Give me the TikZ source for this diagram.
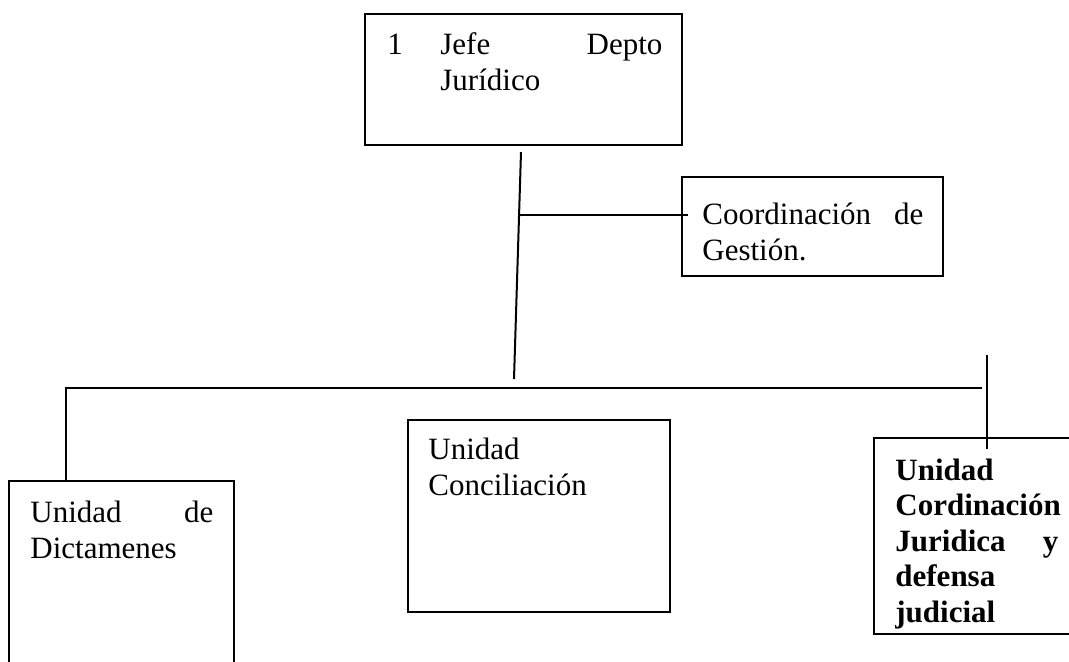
\documentclass[tikz,border=0pt]{standalone}
\usepackage{fontspec}
\setmainfont{Liberation Serif}
\usetikzlibrary{fit}
\begin{document}
\begin{tikzpicture}[x=0.5pt,y=-0.5pt,
  box/.style={draw, line width=1pt, inner sep=0pt},
  txt/.style={anchor=north west, inner sep=0pt, align=left,
    font=\fontsize{15.5pt}{18pt}\selectfont},
  btxt/.style={txt, font=\fontsize{15.5pt}{17.75pt}\selectfont\bfseries},
  conn/.style={line width=1pt}]
\useasboundingbox (0,0) rectangle (1069,661);
% boxes
\node[box, fit={(365,14) (682,145)}] (jefe) {};
\node[box, fit={(682,177) (943,276)}] (coord) {};
\node[box, fit={(9,481) (234,700)}] (dict) {};
\node[box, fit={(408,420) (670,612)}] (conc) {};
\node[box, fit={(874,438) (1090,634)}] (cjur) {};
% texts
\node[txt] (tjefe) at (387,29) {\strut\makebox[26.5pt][l]{1}\makebox[111pt][s]{Jefe Depto}\\\hspace*{26.5pt}Jurídico};
\node[txt] (tcoord) at (702,199) {\strut\makebox[110.5pt][s]{Coordinación de}\\Gestión.};
\node[txt] (tdict) at (30,497) {\strut\makebox[91.5pt][s]{Unidad de}\\Dictamenes};
\node[txt] (tconc) at (428,434) {\strut Unidad\\Conciliación};
\node[btxt] (tcjur) at (895,455) {\strut Unidad\\Cordinación\\\makebox[81.5pt][s]{Juridica y}\\defensa\\judicial};
% connectors
\coordinate (a1) at (521,152);
\coordinate (a2) at (514,379);
\coordinate (b1) at (519,215);
\coordinate (b2) at (688,215);
\coordinate (h1) at (66,388);
\coordinate (h2) at (982,388);
\coordinate (d1) at (66,481);
\coordinate (r1) at (987,355);
\coordinate (r2) at (987,449);
\draw[conn] (a1) -- (a2);
\draw[conn] (b1) -- (b2);
\draw[conn] (d1) -- (h1) -- (h2);
\draw[conn] (r1) -- (r2);
\end{tikzpicture}
\end{document}
